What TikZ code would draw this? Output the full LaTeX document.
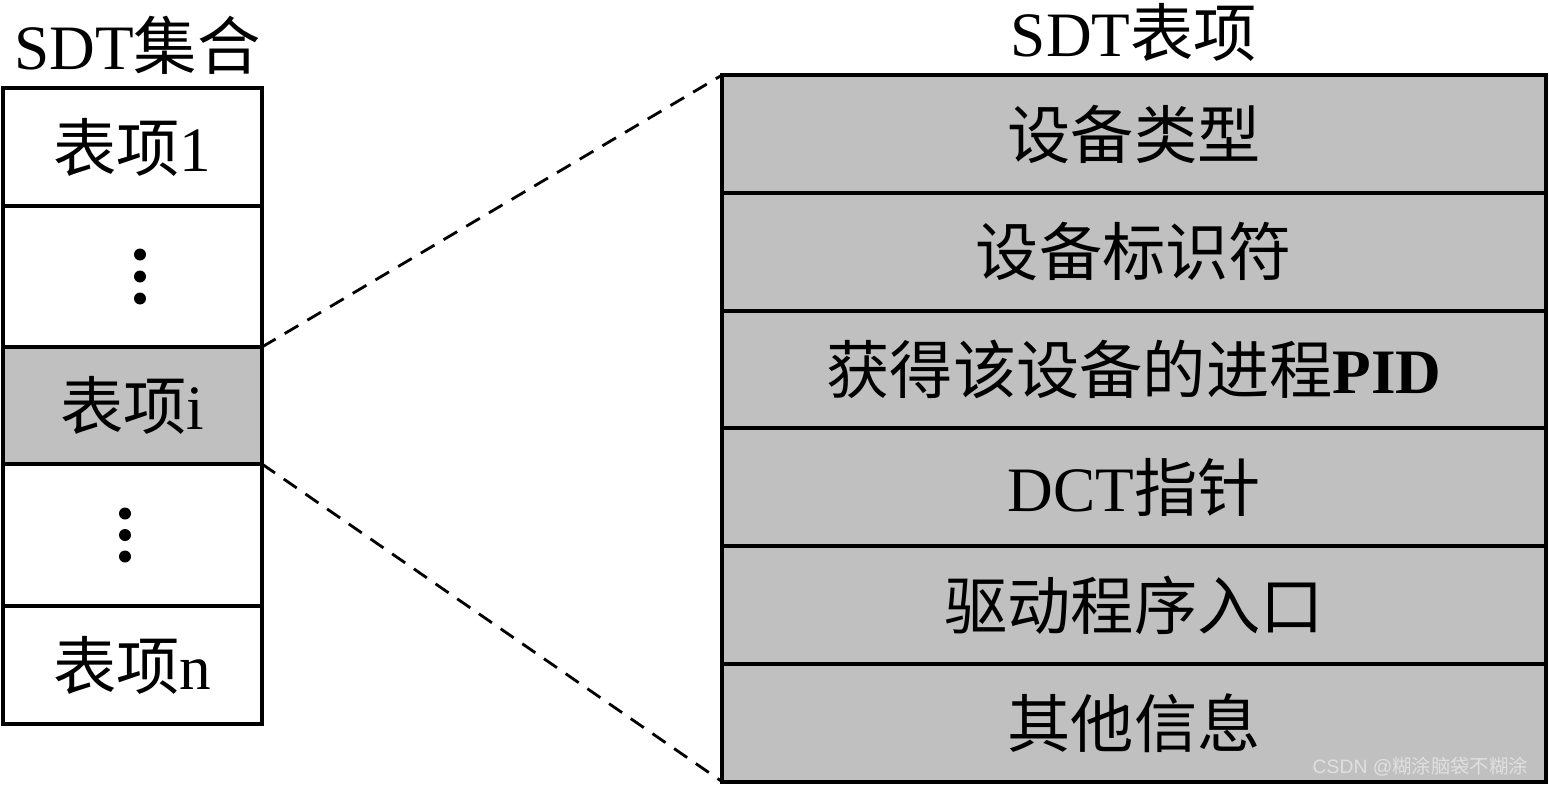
\documentclass[tikz,border=0pt]{standalone}
\usepackage{fontspec}
\setmainfont{Liberation Serif}
\newfontfamily\cjk{Noto Sans CJK SC}
\newfontfamily\wmsans{Liberation Sans}
\usetikzlibrary{positioning}
\definecolor{cellgray}{HTML}{C0C0C0}
\tikzset{
  cell/.style={draw, line width=2.2pt, rectangle, outer sep=0pt, minimum width=5.18cm, inner sep=0pt, font=\fontsize{36}{40}\selectfont},
  entry/.style={draw, line width=2.2pt, rectangle, outer sep=0pt, fill=cellgray, minimum width=16.48cm, minimum height=2.355cm, inner sep=0pt, font=\fontsize{36}{40}\selectfont},
  zoomline/.style={line width=1.6pt, dash pattern=on 9pt off 6pt}
}
\begin{document}
\begin{tikzpicture}
    \useasboundingbox (0,0) rectangle (30.98,15.72);
    % 左侧 SDT集合
    \node[font=\fontsize{36}{40}\selectfont] (settitle) at (2.75,14.82) {SDT{\cjk 集合}};
    \node[cell, minimum height=2.36cm] (row1) at (2.65,12.78) {{\cjk 表项}1};
    \node[cell, minimum height=2.82cm, below=0pt of row1] (row2) {};
    \node[cell, minimum height=2.34cm, fill=cellgray, below=0pt of row2] (rowi) {{\cjk 表项}i};
    \node[cell, minimum height=2.84cm, below=0pt of rowi] (row4) {};
    \node[cell, minimum height=2.36cm, below=0pt of row4] (rown) {{\cjk 表项}n};
    % 省略号
    \foreach \dy in {-0.44,0,0.44}
        \fill ([xshift=0.15cm, yshift=\dy cm]row2.center) circle (0.12);
    \foreach \dy in {-0.43,0,0.43}
        \fill ([xshift=-0.15cm, yshift=\dy cm]row4.center) circle (0.12);
    % 右侧 SDT表项
    \node[font=\fontsize{36}{40}\selectfont] (entrytitle) at (22.68,15.08) {SDT{\cjk 表项}};
    \node[entry] (e1) at (22.68,13.04) {\cjk 设备类型};
    \node[entry, below=0pt of e1] (e2) {\cjk 设备标识符};
    \node[entry, below=0pt of e2] (e3) {{\cjk 获得该设备的进程}\textbf{PID}};
    \node[entry, below=0pt of e3] (e4) {DCT{\cjk 指针}};
    \node[entry, below=0pt of e4] (e5) {\cjk 驱动程序入口};
    \node[entry, below=0pt of e5] (e6) {\cjk 其他信息};
    % 放大虚线
    \draw[zoomline] (rowi.north east) -- (e1.north west);
    \draw[zoomline] (rowi.south east) -- (e6.south west);
    % 水印
    \node[anchor=east, text=white!88!black, font=\fontsize{11}{12}\selectfont] (mark) at (30.68,0.38) {{\wmsans CSDN @}{\cjk 糊涂脑袋不糊涂}};
\end{tikzpicture}
\end{document}
